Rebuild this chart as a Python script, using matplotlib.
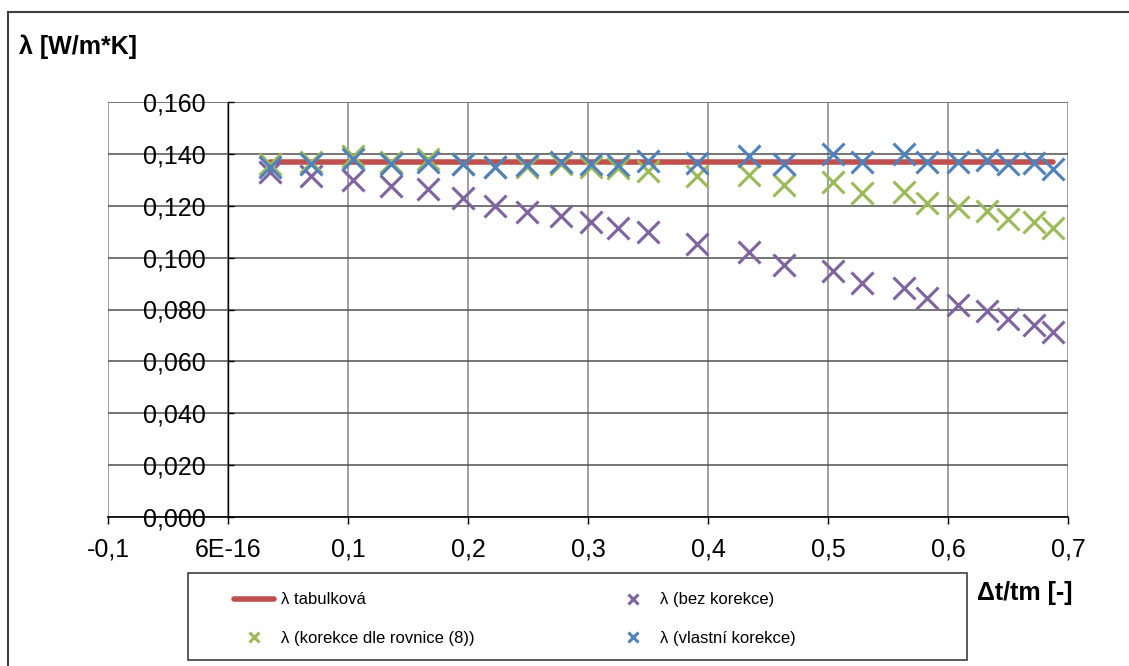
import matplotlib.pyplot as plt
from matplotlib.lines import Line2D
from matplotlib.patches import Rectangle

plt.rcParams['font.family'] = ['Liberation Sans', 'DejaVu Sans']

# Data
dt_tm = [0.035, 0.069, 0.104, 0.136, 0.167, 0.196, 0.2225, 0.249, 0.2775, 0.3025,
         0.325, 0.350, 0.391, 0.434, 0.463, 0.504, 0.528, 0.563, 0.5825, 0.608,
         0.6325, 0.650, 0.672, 0.6875]
lam_bez = [0.1330, 0.1314, 0.1300, 0.1276, 0.1264, 0.1229, 0.1198, 0.1175, 0.1160, 0.1136,
           0.1113, 0.1098, 0.1051, 0.1020, 0.0970, 0.0947, 0.0904, 0.0881, 0.0843, 0.0816,
           0.0793, 0.0765, 0.0742, 0.0715]
lam_rov8 = [0.1360, 0.1370, 0.1390, 0.1370, 0.1380, 0.1360, 0.1350, 0.1350, 0.1360, 0.1350,
            0.1345, 0.1333, 0.1314, 0.1318, 0.1280, 0.1290, 0.1248, 0.1252, 0.1210, 0.1194,
            0.1180, 0.1148, 0.1136, 0.1113]
lam_vlastni = [0.1350, 0.1360, 0.1380, 0.1360, 0.1370, 0.1360, 0.1350, 0.1357, 0.1368, 0.1360,
               0.1357, 0.1372, 0.1364, 0.1390, 0.1360, 0.1400, 0.1368, 0.1400, 0.1368, 0.1370,
               0.1376, 0.1360, 0.1364, 0.1340]
tab_x = [0.035, 0.6875]
tab_y = [0.137, 0.137]

xticks = [-0.1, 0.0, 0.1, 0.2, 0.3, 0.4, 0.5, 0.6, 0.7]
xtick_labels = ['-0,1', '6E-16', '0,1', '0,2', '0,3', '0,4', '0,5', '0,6', '0,7']
yticks = [0.0, 0.02, 0.04, 0.06, 0.08, 0.10, 0.12, 0.14, 0.16]
ytick_labels = ['0,000', '0,020', '0,040', '0,060', '0,080', '0,100', '0,120', '0,140', '0,160']

fig = plt.figure(figsize=(11.29, 6.66), dpi=100)
ax = fig.add_axes([108/1129, 1 - 517/666, 960/1129, 415/666])

l_tab, = ax.plot(tab_x, tab_y, color='#C0504D', lw=4, solid_capstyle='round',
                 label='λ tabulková', zorder=3)
mk = dict(ls='none', marker='x', ms=16, mew=2.2, zorder=4)
l_bez, = ax.plot(dt_tm, lam_bez, color='#8064A2', label='λ (bez korekce)', **mk)
l_rov, = ax.plot(dt_tm, lam_rov8, color='#9BBB59', label='λ (korekce dle rovnice (8))', **mk)
l_vl, = ax.plot(dt_tm, lam_vlastni, color='#4F81BD', label='λ (vlastní korekce)', **mk)

ax.set_xlim(-0.1, 0.7)
ax.set_ylim(0, 0.16)
ax.set_xticks(xticks)
ax.set_xticklabels(xtick_labels)
ax.set_yticks(yticks)
ax.set_yticklabels(ytick_labels)

# grid: gray verticals, dark horizontals
ax.xaxis.grid(True, color='#a0a0a0', lw=1.4)
ax.yaxis.grid(True, color='#505050', lw=1.1)
ax.set_axisbelow(True)

for s in ['top', 'right']:
    ax.spines[s].set_visible(False)
ax.spines['left'].set_position(('data', 0))
ax.spines['left'].set_color('black')
ax.spines['left'].set_linewidth(1.0)
ax.spines['bottom'].set_color('black')
ax.spines['bottom'].set_linewidth(1.2)

ax.tick_params(axis='x', direction='out', length=5, width=1, pad=10, labelsize=18)
ax.tick_params(axis='y', direction='in', length=4, width=1, pad=16, labelsize=18)

# axis titles
fig.text(19/1129, 1 - 47/666, 'λ [W/m*K]', fontsize=18, fontweight='bold',
         ha='left', va='center')
fig.text(1025/1129, 1 - 593/666, 'Δt/tm [-]', fontsize=18, fontweight='bold',
         ha='center', va='center')

# outer chart border (top and left visible)
fig.add_artist(Line2D([8/1129, 1], [1 - 12/666, 1 - 12/666], transform=fig.transFigure,
                      color='#404040', lw=1.5))
fig.add_artist(Line2D([8/1129, 8/1129], [0, 1 - 12/666], transform=fig.transFigure,
                      color='#404040', lw=1.5))

# legend box
fig.add_artist(Rectangle((188/1129, 6/666), 779/1129, 87/666, transform=fig.transFigure,
                         fill=False, edgecolor='#404040', lw=1.2))
leg = fig.legend([l_tab, l_rov, l_bez, l_vl],
                 [l_tab.get_label(), l_rov.get_label(), l_bez.get_label(), l_vl.get_label()],
                 ncol=2, loc='upper left', bbox_to_anchor=(226/1129, 1 - 584/666),
                 frameon=False, borderpad=0, numpoints=1, markerscale=0.45,
                 handlelength=2.4, handletextpad=0.4, columnspacing=8.3,
                 labelspacing=1.4, prop={'size': 12})

fig.savefig('out.png', dpi=100)
